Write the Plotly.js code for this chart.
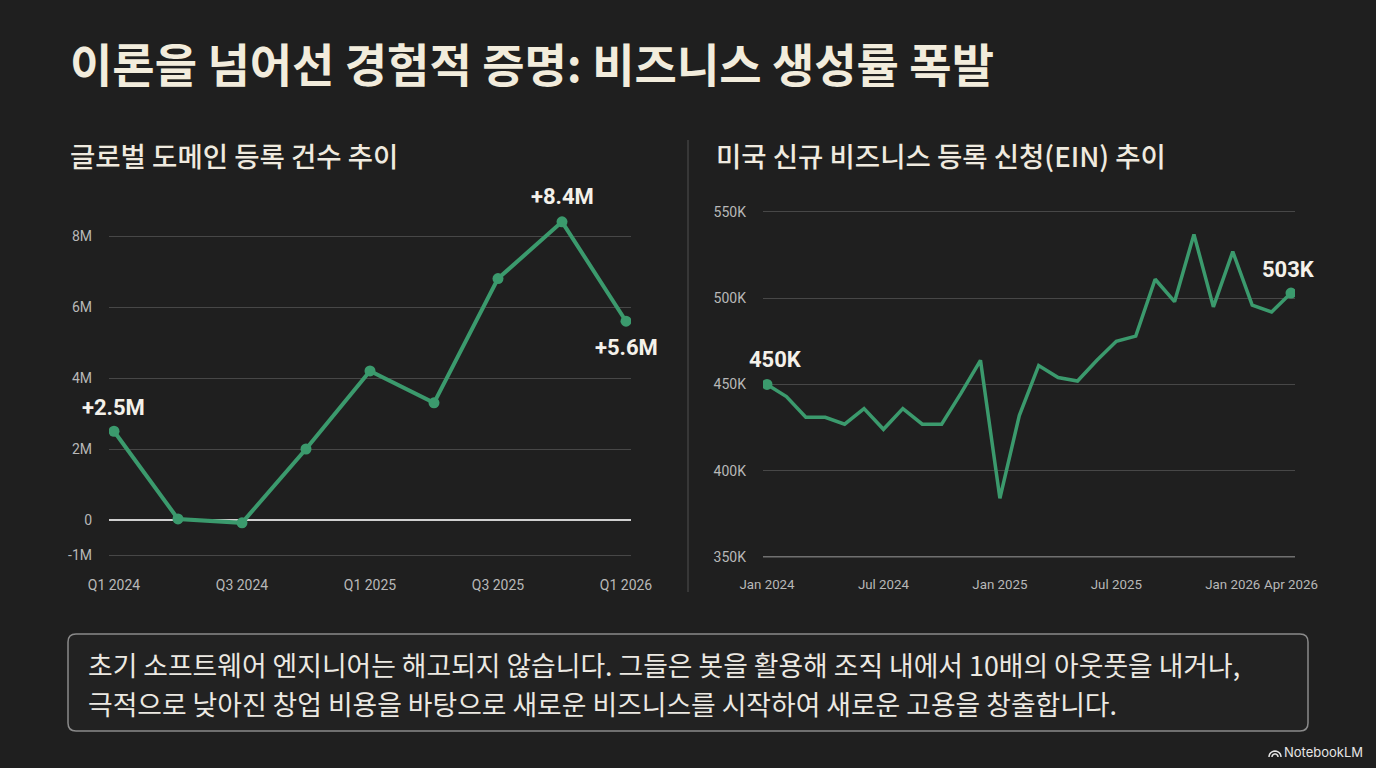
<!DOCTYPE html>
<html><head><meta charset="utf-8">
<script src="https://cdn.plot.ly/plotly-3.0.1.min.js"></script>
<style>html,body{margin:0;padding:0;background:#1f1f1f;}#chart{width:1376px;height:768px;}</style>
</head><body><div id="chart"></div>
<script>
// Left chart: global domain registrations (quarterly change, millions)
const quarters = ['Q1 2024','Q2 2024','Q3 2024','Q4 2024','Q1 2025','Q2 2025','Q3 2025','Q4 2025','Q1 2026'];
const domainChange = [2.5, 0.03, -0.08, 2.0, 4.2, 3.3, 6.8, 8.4, 5.6];
const quarterTicks = ['Q1 2024','Q3 2024','Q1 2025','Q3 2025','Q1 2026'];
const domainTickVals = [-1, 0, 2, 4, 6, 8];
const domainTickText = ['-1M','0','2M','4M','6M','8M'];

// Right chart: US new business applications (EIN), thousands
const months = ['Jan 2024','Feb 2024','Mar 2024','Apr 2024','May 2024','Jun 2024','Jul 2024','Aug 2024','Sep 2024','Oct 2024','Nov 2024','Dec 2024',
  'Jan 2025','Feb 2025','Mar 2025','Apr 2025','May 2025','Jun 2025','Jul 2025','Aug 2025','Sep 2025','Oct 2025','Nov 2025','Dec 2025',
  'Jan 2026','Feb 2026','Mar 2026','Apr 2026'];
const einApps = [450, 443, 431, 431, 427, 436, 424, 436, 427, 427, 445, 464,
  384, 432, 461, 454, 452, 464, 475, 478, 511, 498, 537, 495,
  527, 496, 492, 503];
const monthTicks = ['Jan 2024','Jul 2024','Jan 2025','Jul 2025','Jan 2026','Apr 2026'];
const einTickVals = [350, 400, 450, 500, 550];
const einTickText = ['350K','400K','450K','500K','550K'];

// Text
const mainTitle = '이론을 넘어선 경험적 증명: 비즈니스 생성률 폭발';
const leftTitle = '글로벌 도메인 등록 건수 추이';
const rightTitle = '미국 신규 비즈니스 등록 신청(EIN) 추이';
const noteLines = ['초기 소프트웨어 엔지니어는 해고되지 않습니다. 그들은 봇을 활용해 조직 내에서 10배의 아웃풋을 내거나,',
                   '극적으로 낮아진 창업 비용을 바탕으로 새로운 비즈니스를 시작하여 새로운 고용을 창출합니다.'];

const GREEN = '#3b9a6d';
const BG = '#1f1f1f';
const H = 768, W = 1376;
const yb = 1 - 557.5 / H, yt = 1 - 179 / H;

const n = domainChange.length;
const traces = [
  {x: quarters, y: domainChange, xaxis: 'x', yaxis: 'y', type: 'scatter', mode: 'lines+markers',
   line: {color: GREEN, width: 4}, marker: {color: GREEN, size: 11}, hoverinfo: 'skip'},
  {x: months, y: einApps, xaxis: 'x2', yaxis: 'y2', type: 'scatter', mode: 'lines',
   line: {color: GREEN, width: 3.5}, hoverinfo: 'skip'},
  {x: [months[0], months[months.length - 1]], y: [einApps[0], einApps[einApps.length - 1]], xaxis: 'x2', yaxis: 'y2',
   type: 'scatter', mode: 'markers', marker: {color: GREEN, size: 11}, hoverinfo: 'skip'}
];

const tickFont = {family: 'Roboto, sans-serif', size: 14, color: '#b8b8b8'};
const tickFont2 = {family: 'Roboto, sans-serif', size: 13.3, color: '#b8b8b8'};
const KR = '"Noto Sans CJK KR", sans-serif';
const labFont = {family: 'Roboto, sans-serif', size: 22, color: '#f4f1ea', weight: 700};

function fmtM(v){ return '+' + v.toFixed(1) + 'M'; }
function fmtK(v){ return Math.round(v) + 'K'; }

const last = months.length - 1;
const annotations = [
  {xref: 'paper', yref: 'paper', x: 68 / W, y: 1 - 62 / H, xanchor: 'left', yanchor: 'middle', showarrow: false,
   text: mainTitle, font: {family: KR, size: 46, color: '#f2ecdc', weight: 700}},
  {xref: 'paper', yref: 'paper', x: 68 / W, y: 1 - 155 / H, xanchor: 'left', yanchor: 'middle', showarrow: false,
   text: leftTitle, font: {family: KR, size: 27.5, color: '#efeadf', weight: 500}},
  {xref: 'paper', yref: 'paper', x: 714 / W, y: 1 - 155 / H, xanchor: 'left', yanchor: 'middle', showarrow: false,
   text: rightTitle, font: {family: KR, size: 27.5, color: '#efeadf', weight: 500}},
  {xref: 'paper', yref: 'paper', x: 86 / W, y: 1 - 664.5 / H, xanchor: 'left', yanchor: 'middle', showarrow: false,
   text: noteLines[0], font: {family: KR, size: 26.8, color: '#ece9e2'}},
  {xref: 'paper', yref: 'paper', x: 86 / W, y: 1 - 703.5 / H, xanchor: 'left', yanchor: 'middle', showarrow: false,
   text: noteLines[1], font: {family: KR, size: 26.8, color: '#ece9e2'}},
  {xref: 'paper', yref: 'paper', x: 1365 / W, y: 1 - 752 / H, xanchor: 'right', yanchor: 'middle', showarrow: false,
   text: 'NotebookLM', font: {family: 'Inter, sans-serif', size: 13, color: '#e6e6e6'}},
  // data labels
  {xref: 'x', yref: 'y', x: quarters[0], y: domainChange[0], yshift: 24, showarrow: false, text: fmtM(domainChange[0]), font: labFont},
  {xref: 'x', yref: 'y', x: quarters[7], y: domainChange[7], yshift: 25, showarrow: false, text: fmtM(domainChange[7]), font: labFont},
  {xref: 'x', yref: 'y', x: quarters[8], y: domainChange[8], yshift: -26, showarrow: false, text: fmtM(domainChange[8]), font: labFont},
  {xref: 'x2', yref: 'y2', x: months[0], y: einApps[0], yshift: 25, xshift: 8, showarrow: false, text: fmtK(einApps[0]), font: labFont},
  {xref: 'x2', yref: 'y2', x: months[last], y: einApps[last], yshift: 24, xshift: -3, showarrow: false, text: fmtK(einApps[last]), font: labFont}
];

function rr(x0p, y0p, x1p, y1p, r){
  const x0 = x0p / W, x1 = x1p / W, y0 = 1 - y1p / H, y1 = 1 - y0p / H;
  const rx = r / W, ry = r / H;
  return `M${x0+rx},${y0} L${x1-rx},${y0} Q${x1},${y0} ${x1},${y0+ry} L${x1},${y1-ry} Q${x1},${y1} ${x1-rx},${y1} L${x0+rx},${y1} Q${x0},${y1} ${x0},${y1-ry} L${x0},${y0+ry} Q${x0},${y0} ${x0+rx},${y0} Z`;
}
function arc(cx, cy, r){
  const pts = [];
  for (let a = 180; a >= 0; a -= 15){
    const t = a * Math.PI / 180;
    pts.push(((cx + r * Math.cos(t)) / W) + ',' + (1 - (cy - r * Math.sin(t)) / H));
  }
  return 'M' + pts.join(' L');
}

const layout = {
  width: W, height: H,
  paper_bgcolor: BG, plot_bgcolor: BG,
  margin: {l: 0, r: 0, t: 0, b: 0},
  showlegend: false,
  xaxis: {domain: [109 / W, 631 / W], type: 'category', range: [-0.078, n - 1 + 0.078],
    tickvals: quarterTicks, showgrid: false, zeroline: false, showline: false, ticks: '', tickangle: 0,
    tickfont: tickFont, ticklabelstandoff: 17, fixedrange: true},
  yaxis: {domain: [yb, yt], range: [-1.056, 9.606], tickvals: domainTickVals, ticktext: domainTickText,
    showgrid: true, gridcolor: '#474747', gridwidth: 1, zeroline: true, zerolinecolor: '#d0d0d0', zerolinewidth: 1.5,
    showline: false, ticks: '', tickfont: tickFont, ticklabelstandoff: 16, fixedrange: true},
  xaxis2: {domain: [763 / W, 1295 / W], type: 'category', range: [-0.206, last + 0.206], anchor: 'y2',
    tickvals: monthTicks, showgrid: false, zeroline: false, showline: false, ticks: '', tickangle: 0,
    tickfont: tickFont2, ticklabelstandoff: 17, fixedrange: true},
  yaxis2: {domain: [yb, yt], range: [349.7, 569.1], anchor: 'x2', tickvals: einTickVals, ticktext: einTickText,
    showgrid: true, gridcolor: '#474747', gridwidth: 1, zeroline: false,
    showline: false, ticks: '', tickfont: tickFont, ticklabelstandoff: 16, fixedrange: true},
  shapes: [
    {type: 'line', xref: 'paper', yref: 'paper', x0: 688 / W, x1: 688 / W, y0: 1 - 592 / H, y1: 1 - 140 / H,
     line: {color: '#505050', width: 1}},
    {type: 'line', xref: 'x2', yref: 'y2', x0: -0.206, x1: last + 0.206, y0: 350, y1: 350, line: {color: '#8c8c8c', width: 1.5}},
    {type: 'path', xref: 'paper', yref: 'paper', path: rr(68, 634, 1308, 731, 8),
     line: {color: '#8a8a8a', width: 1.5}, fillcolor: 'rgba(255,255,255,0.015)'},
    {type: 'path', xref: 'paper', yref: 'paper', path: arc(1275, 757, 6), line: {color: '#e6e6e6', width: 1.5}},
    {type: 'path', xref: 'paper', yref: 'paper', path: arc(1275, 757, 3), line: {color: '#e6e6e6', width: 1.5}}
  ],
  annotations: annotations
};

Plotly.newPlot('chart', traces, layout, {staticPlot: true, displayModeBar: false});
</script></body></html>
